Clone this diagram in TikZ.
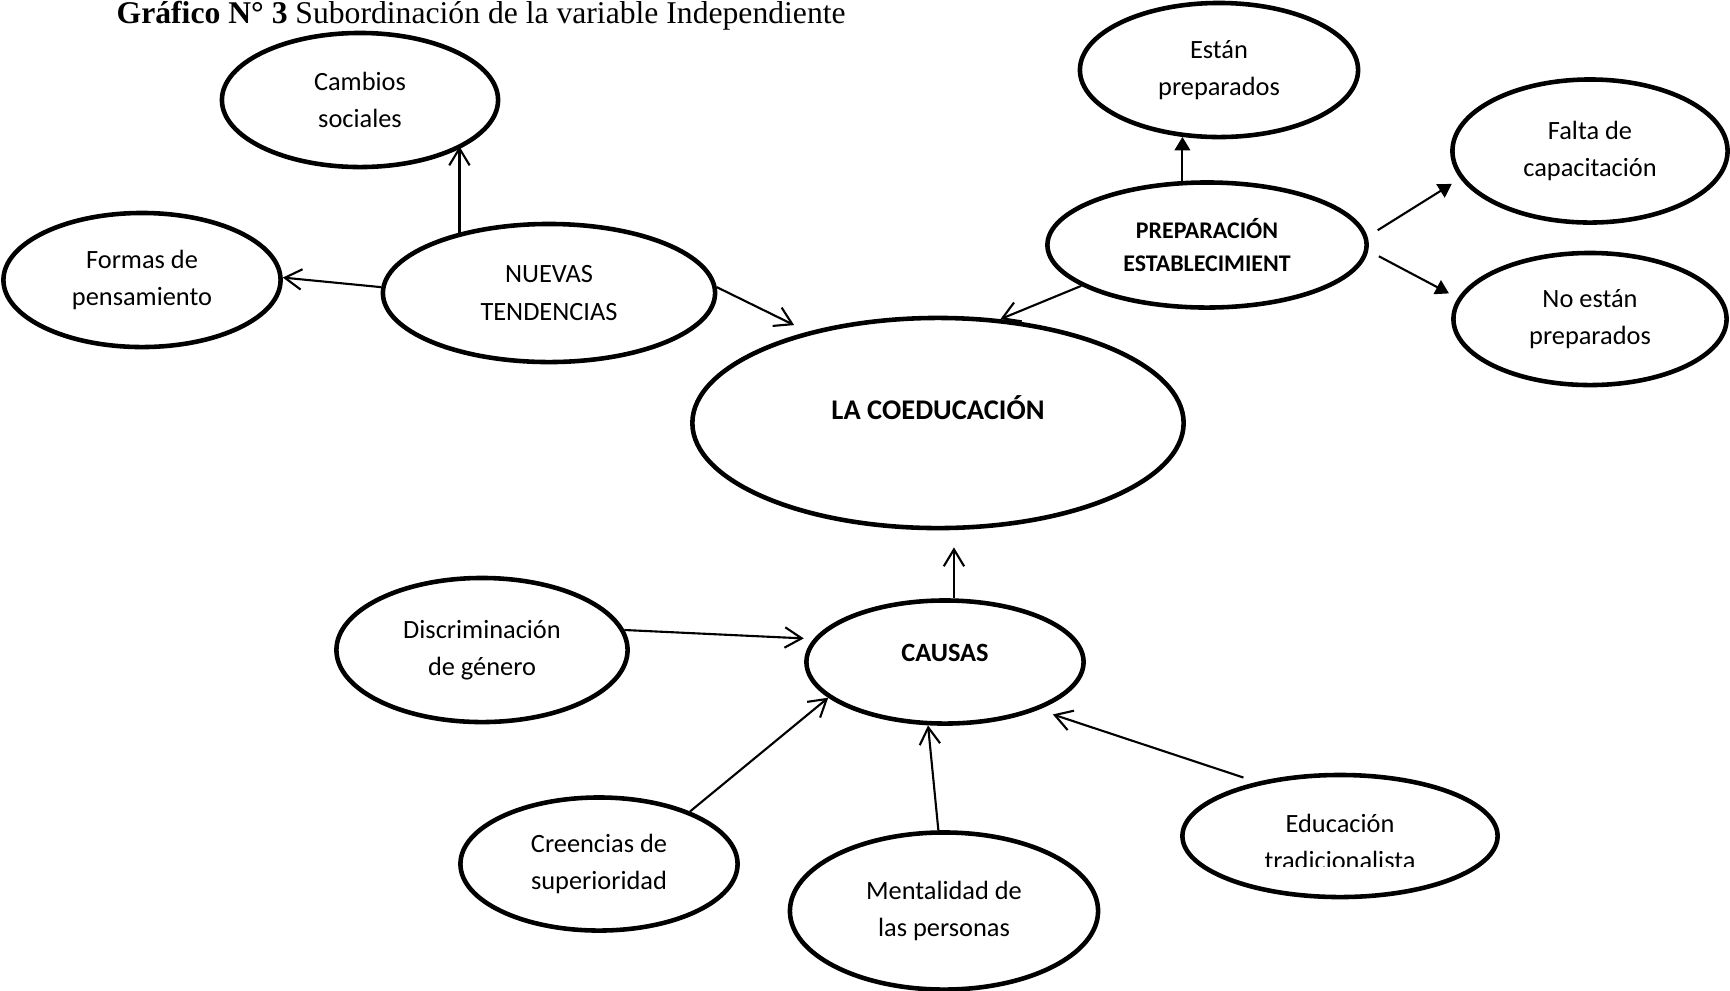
\documentclass[tikz,border=0pt]{standalone}
\usepackage{fontspec}
\setmainfont{Carlito}
\newfontfamily\titlefont{Liberation Serif}
\usetikzlibrary{shapes,arrows.meta,calc}

\begin{document}
\begin{tikzpicture}[x=0.01cm, y=-0.01cm,
  globo/.style={ellipse, draw=black, line width=1.3pt, inner sep=0pt, align=center, font=\fontsize{7.5}{10.6}\selectfont},
  flecha/.style={line width=0.6pt, -{Straight Barb[length=4.8pt,width=5.8pt,line width=0.6pt]}},
  flechallena/.style={line width=0.6pt, -{Triangle[length=3.8pt,width=4.4pt]}}]

\useasboundingbox (0,0) rectangle (1730,990);

\node[anchor=base west, inner sep=0pt, font=\titlefont\fontsize{9}{11}\selectfont] (titulo) at (116,23) {\textbf{Gráfico N° 3} Subordinación de la variable Independiente};

% rama superior izquierda
\node[globo, minimum width=2.76cm, minimum height=1.34cm] (cambios) at (360,100) {Cambios\\sociales};
\node[globo, minimum width=2.77cm, minimum height=1.34cm] (formas) at (142,280) {Formas de\\pensamiento};
\node[globo, minimum width=3.32cm, minimum height=1.38cm] (nuevas) at (549,293) {NUEVAS\\TENDENCIAS};

% centro
\node[globo, minimum width=4.91cm, minimum height=2.10cm, text depth=0.3cm, font=\fontsize{8.1}{10}\selectfont\bfseries] (coedu) at (938,423) {LA COEDUCACIÓN};

% rama superior derecha
\node[globo, minimum width=2.78cm, minimum height=1.34cm] (estan) at (1219,70) {Están\\preparados};
\node[globo, minimum width=3.19cm, minimum height=1.25cm, font=\fontsize{6.8}{9.4}\selectfont\bfseries] (prep) at (1207,245) {PREPARACIÓN\\ESTABLECIMIENT};
\node[globo, minimum width=2.75cm, minimum height=1.43cm] (falta) at (1590,151) {Falta de\\capacitación};
\node[globo, minimum width=2.73cm, minimum height=1.32cm] (noestan) at (1590,319) {No están\\preparados};

% causas
\node[globo, minimum width=2.77cm, minimum height=1.23cm, text depth=0.18cm, font=\fontsize{7.5}{10}\selectfont\bfseries] (causas) at (945,662) {CAUSAS};
\node[globo, minimum width=2.91cm, minimum height=1.44cm] (discrim) at (482,650) {Discriminación\\de género};
\node[globo, minimum width=2.77cm, minimum height=1.33cm] (creencias) at (599,864) {Creencias de\\superioridad};
\node[globo, minimum width=3.08cm, minimum height=1.57cm] (mentalidad) at (944,911) {Mentalidad de\\las personas};
\node[globo, minimum width=3.15cm, minimum height=1.22cm] (educ) at (1340,836) {};
\begin{scope}
  \clip (1180,770) rectangle (1500,866);
  \node[globo, draw=none] (eductexto) at (1340,842) {Educación\\tradicionalista};
\end{scope}

% flechas
\draw[flecha] (nuevas.146) -- (nuevas.146 |- cambios.-24);
\draw[flecha] (nuevas.178) -- (formas.1);
\draw[flecha, shorten >=0.15cm] (nuevas.2) -- (coedu.145);

\draw[flechallena] (prep.111) -- (prep.111 |- estan.241);
\draw[flechallena, shorten <=0.12cm, shorten >=0.1cm] (prep.3) -- (falta.192);
\draw[flechallena, shorten <=0.12cm, shorten >=0.1cm] (prep.-2) -- (noestan.171);
\draw[flecha] (prep.198) -- (coedu.59);

\draw[flecha, shorten >=0.17cm] (causas.82) -- (causas.82 |- coedu.south);
\draw[flecha, shorten >=0.1cm] (discrim.8) -- (causas.170);
\draw[flecha] (creencias.30) -- (causas.197);
\draw[flecha] (mentalidad.94) -- (causas.255);
\draw[flecha, shorten <=0.14cm, shorten >=0.15cm] (educ.147) -- (causas.-27);

\end{tikzpicture}
\end{document}
